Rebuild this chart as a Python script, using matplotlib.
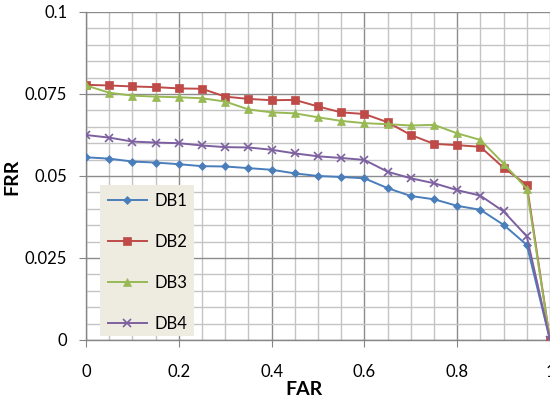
import matplotlib

matplotlib.use("Agg")

import matplotlib.pyplot as plt
from matplotlib.patches import Rectangle
from matplotlib.ticker import MultipleLocator, FixedFormatter, FixedLocator

far = [0.0, 0.05, 0.1, 0.15, 0.2, 0.25, 0.3, 0.35, 0.4, 0.45, 0.5,
       0.55, 0.6, 0.65, 0.7, 0.75, 0.8, 0.85, 0.9, 0.95, 1.0]

db1 = [0.0557, 0.0553, 0.0544, 0.0541, 0.0536, 0.0530, 0.0529, 0.0524, 0.0519, 0.0508, 0.0500,
       0.0497, 0.0493, 0.0463, 0.0439, 0.0429, 0.0409, 0.0397, 0.0351, 0.0290, 0.0]
db2 = [0.0778, 0.0776, 0.0773, 0.0771, 0.0767, 0.0766, 0.0742, 0.0735, 0.0731, 0.0732, 0.0712,
       0.0694, 0.0689, 0.0664, 0.0625, 0.0598, 0.0594, 0.0589, 0.0525, 0.0473, 0.0]
db3 = [0.0776, 0.0754, 0.0745, 0.0742, 0.0740, 0.0737, 0.0727, 0.0703, 0.0694, 0.0691, 0.0679,
       0.0668, 0.0661, 0.0658, 0.0654, 0.0656, 0.0630, 0.0610, 0.0538, 0.0461, 0.0]
db4 = [0.0625, 0.0617, 0.0605, 0.0602, 0.0600, 0.0593, 0.0588, 0.0587, 0.0580, 0.0569, 0.0560,
       0.0555, 0.0549, 0.0513, 0.0493, 0.0478, 0.0457, 0.0440, 0.0392, 0.0316, 0.0]

series = [
    ("DB1", db1, "#4A7EBB", "D", 4.5),
    ("DB2", db2, "#BE4B48", "s", 5.5),
    ("DB3", db3, "#98B954", "^", 5.5),
    ("DB4", db4, "#7D60A0", "x", 5.5),
]

x_ticks = [0, 0.2, 0.4, 0.6, 0.8, 1.0]
x_tick_labels = ["0", "0.2", "0.4", "0.6", "0.8", "1"]
y_ticks = [0, 0.025, 0.05, 0.075, 0.1]
y_tick_labels = ["0", "0.025", "0.05", "0.075", "0.1"]

plt.rcParams["font.family"] = ["Lato", "DejaVu Sans"]

fig, ax = plt.subplots(figsize=(5.5, 4.03), dpi=100)
fig.subplots_adjust(left=86 / 550, right=1.0, top=1 - 12 / 403, bottom=1 - 340 / 403)

for name, vals, color, marker, ms in series:
    ax.plot(far, vals, color=color, linewidth=1.4, marker=marker, markersize=ms,
            markeredgewidth=1.2 if marker == "x" else 0.5, markeredgecolor=color,
            label=name, zorder=3)

ax.set_xlim(0, 1)
ax.set_ylim(0, 0.1)
ax.xaxis.set_major_locator(FixedLocator(x_ticks))
ax.xaxis.set_major_formatter(FixedFormatter(x_tick_labels))
ax.yaxis.set_major_locator(FixedLocator(y_ticks))
ax.yaxis.set_major_formatter(FixedFormatter(y_tick_labels))
ax.xaxis.set_minor_locator(MultipleLocator(0.05))
ax.yaxis.set_minor_locator(MultipleLocator(0.005))

ax.grid(True, which="major", color="#8C8C8C", linewidth=1.0, zorder=1)
ax.grid(True, which="minor", color="#C4C4C4", linewidth=1.0, zorder=0)
ax.set_axisbelow(True)

for side in ("top", "right"):
    ax.spines[side].set_visible(False)
for side in ("left", "bottom"):
    ax.spines[side].set_color("#868686")
    ax.spines[side].set_linewidth(1.0)

ax.tick_params(which="major", direction="out", length=5, color="#868686", labelsize=12)
ax.tick_params(axis="y", which="major", pad=8.5)
ax.tick_params(axis="x", which="major", pad=12)
ax.tick_params(which="minor", length=0)

ax.set_xlabel("FAR", fontsize=14, fontweight="bold")
ax.set_ylabel("FRR", fontsize=14, fontweight="bold")
ax.xaxis.set_label_coords(0.470, -0.124)
ax.yaxis.set_label_coords(-0.142, 0.4985)

# legend background box (Excel style, no border)
ax.add_patch(Rectangle((0.03, 0.0122), 0.2026, 0.4604, transform=ax.transAxes,
                       facecolor="#EEECE1", edgecolor="none", zorder=4))
leg = ax.legend(loc="upper left", bbox_to_anchor=(0.03, 0.4726), frameon=False,
                fontsize=12, labelspacing=1.5, handlelength=2.3, handletextpad=0.45,
                borderpad=0.5, borderaxespad=0)
leg.set_zorder(5)

fig.savefig("out.png", dpi=100)
plt.close(fig)
